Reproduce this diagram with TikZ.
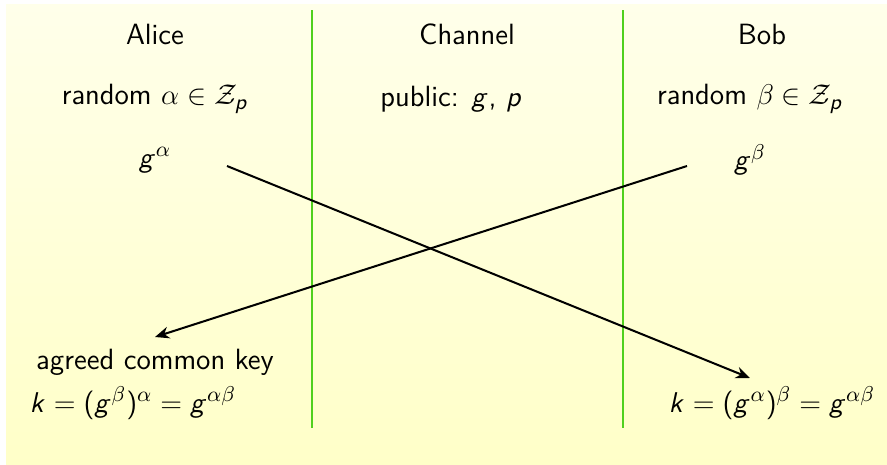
\documentclass[tikz,border=0pt]{standalone}
\usetikzlibrary{arrows.meta}
\DeclareSymbolFont{sfop}{OT1}{cmss}{m}{n}
\DeclareSymbolFont{sfletters}{OT1}{cmss}{m}{sl}
\DeclareMathSymbol{g}{\mathalpha}{sfletters}{`g}
\DeclareMathSymbol{p}{\mathalpha}{sfletters}{`p}
\DeclareMathSymbol{k}{\mathalpha}{sfletters}{`k}
\DeclareMathSymbol{(}{\mathopen}{sfop}{`(}
\DeclareMathSymbol{)}{\mathclose}{sfop}{`)}
\DeclareMathSymbol{=}{\mathrel}{sfop}{`=}
\definecolor{bgtop}{RGB}{255,255,234}
\definecolor{bgbot}{RGB}{255,255,200}
\definecolor{chgreen}{RGB}{80,208,30}
\begin{document}
\begin{tikzpicture}[x=0.42pt,y=-0.42pt,
  lbl/.style={font=\sffamily\fontsize{12.3}{14}\selectfont, inner sep=0pt},
  divider/.style={chgreen, line width=1.1pt},
  msg/.style={line width=0.85pt, -{Stealth[length=6pt,width=5pt]}}]
\useasboundingbox (0,0) rectangle (887,465);
\shade[top color=bgtop, bottom color=bgbot] (6,5) rectangle (887,465);
\coordinate (d1t) at (312,10); \coordinate (d1b) at (312,428);
\coordinate (d2t) at (623,10); \coordinate (d2b) at (623,428);
\draw[divider] (d1t) -- (d1b);
\draw[divider] (d2t) -- (d2b);
\node[lbl] (alice) at (155,34) {Alice};
\node[lbl] (channel) at (467,34) {Channel};
\node[lbl] (bob) at (762,34) {Bob};
\node[lbl] (ra) at (155,99) {random $\alpha\in\mathcal{Z}_p$};
\node[lbl] (pub) at (451,99) {public: $g$, $p$};
\node[lbl] (rb) at (750,99) {random $\beta\in\mathcal{Z}_p$};
\node[lbl] (ga) at (155,160) {$g^{\alpha}$};
\node[lbl] (gb) at (750,160) {$g^{\beta}$};
\node[lbl] (agreed) at (155,362) {agreed common key};
\node[lbl] (ka) at (133,403) {$k=(g^{\beta})^{\alpha}=g^{\alpha\beta}$};
\node[lbl] (kb) at (772,403) {$k=(g^{\alpha})^{\beta}=g^{\alpha\beta}$};
\coordinate (a1s) at (227,166); \coordinate (a1e) at (750,378);
\coordinate (a2s) at (687,166); \coordinate (a2e) at (155,337);
\draw[msg] (a1s) -- (a1e);
\draw[msg] (a2s) -- (a2e);
\end{tikzpicture}
\end{document}
